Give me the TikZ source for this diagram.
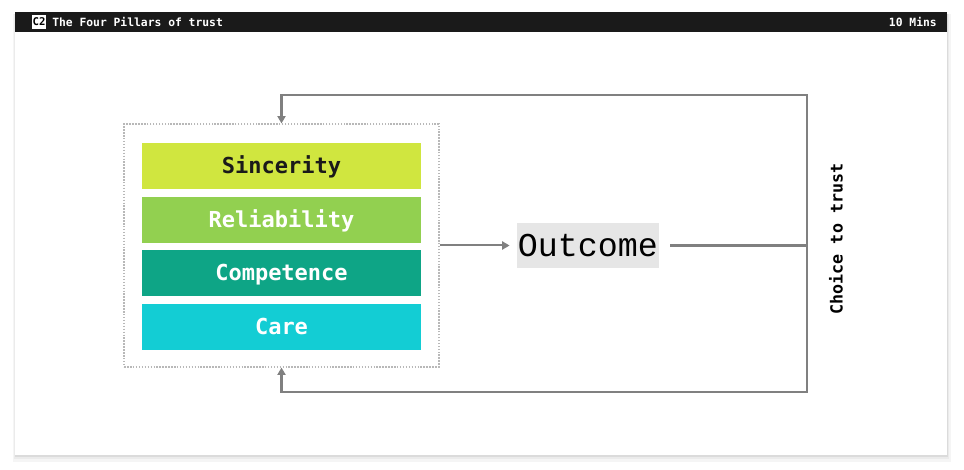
\documentclass[tikz,border=0pt]{standalone}
\usepackage{fontspec}
\setmonofont{DejaVu Sans Mono}
\newfontfamily\thinmono{Liberation Mono}
\usetikzlibrary{arrows.meta,positioning}

\definecolor{barblack}{HTML}{1A1A1A}
\definecolor{linegray}{HTML}{808080}
\definecolor{sincerecol}{HTML}{D0E63F}
\definecolor{reliablecol}{HTML}{92D050}
\definecolor{competentcol}{HTML}{0EA586}
\definecolor{carecol}{HTML}{13CDD4}
\definecolor{outcomefill}{HTML}{E6E6E6}

\tikzset{
  pillar/.style={minimum width=209pt, minimum height=34.5pt, inner sep=0pt,
    text height=13.5pt, text depth=2pt,
    font=\fontsize{16.5}{18}\ttfamily\bfseries, text=white},
  loopline/.style={draw=linegray, line width=1.8pt},
  tip/.style={-{Triangle[length=5.5pt,width=6pt]}}
}

\begin{document}
\begin{tikzpicture}[x=0.75pt,y=-0.75pt]
  \useasboundingbox (0,0) rectangle (964,470);
  % card with shadow
  \fill[black!4] (13,14) rectangle (951,462);
  \fill[black!8] (14,14) rectangle (949,459);
  \fill[black!14] (15,14) rectangle (948,457);
  \fill[white] (15,12) rectangle (947,455);
  \fill[barblack] (15,12) rectangle (947,32);
  \node[fill=white, text=black, inner sep=0.6pt, minimum width=10.5pt, minimum height=10.5pt,
    font=\fontsize{8}{9}\ttfamily\bfseries] (tag) at (39,22) {C2};
  \node[anchor=west, inner sep=0pt, text=white, font=\fontsize{8.5}{10}\ttfamily\bfseries]
    (title) at (52,22) {The Four Pillars of trust};
  \node[anchor=east, inner sep=0pt, text=white, font=\fontsize{8.5}{10}\ttfamily\bfseries]
    (time) at (937,22) {10 Mins};

  % the pillars
  \node[draw=black!28, line width=1.1pt, dash pattern=on 1.1pt off 1.1pt,
    minimum width=236pt, minimum height=182pt] (frame) at (281.5,245.5) {};
  \node[pillar, fill=sincerecol, text=barblack] (sinc) at (281.5,166) {Sincerity};
  \node[pillar, fill=reliablecol, below=5.25pt of sinc] (reli) {Reliability};
  \node[pillar, fill=competentcol, below=5.25pt of reli] (comp) {Competence};
  \node[pillar, fill=carecol, below=5.25pt of comp] (care) {Care};

  \node[fill=outcomefill, inner sep=1pt, minimum width=106pt, minimum height=34pt,
    font=\fontsize{25}{28}\thinmono] (outc) at (588,245.5) {Outcome};

  \coordinate (corner1) at (807,95);
  \coordinate (corner2) at (807,392);
  \coordinate (join) at (807,245.5);

  \draw[draw=linegray, line width=1.5pt, tip] (frame.east) -- ++(70,0);
  \draw[loopline] ([xshift=8pt]outc.east) -- (join);
  \draw[loopline, line cap=rect] (corner1) -- (corner2);
  \draw[loopline, tip] (corner1) -| (frame.north);
  \draw[loopline, tip] (corner2) -| (frame.south);

  \node[rotate=90, inner sep=0pt, font=\fontsize{12.5}{14}\ttfamily\bfseries]
    (choice) at (836,239) {Choice to trust};
\end{tikzpicture}
\end{document}
